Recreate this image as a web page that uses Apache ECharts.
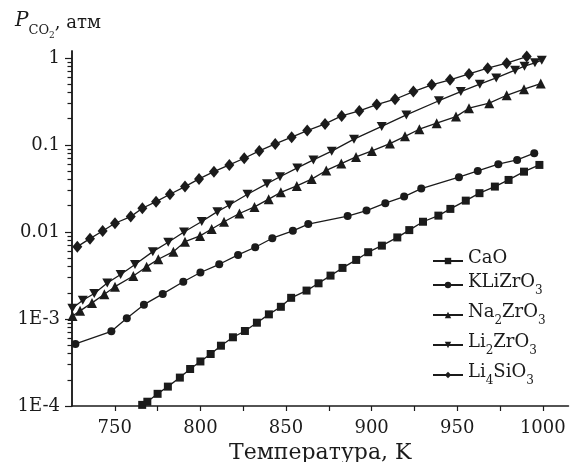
<!DOCTYPE html>
<html>
<head>
<meta charset="utf-8">
<script src="https://cdn.jsdelivr.net/npm/echarts@6/dist/echarts.min.js"></script>
<style>html,body{margin:0;padding:0;background:#fff;}#c{width:571px;height:462px;}</style>
</head>
<body>
<div id="c"></div>
<script>
// ---- data (temperature K, pressure atm) ----
const caoT = [766, 769, 775, 781, 788, 794, 800, 806, 812, 819, 826, 833, 840, 847, 853, 862, 869, 876, 883, 891, 898, 906, 915, 922, 930, 939, 946, 955, 963, 972, 980, 989, 998];
const caoP = [1.03e-4, 1.12e-4, 1.38e-4, 1.67e-4, 2.12e-4, 2.66e-4, 3.25e-4, 3.96e-4, 4.93e-4, 6.16e-4, 7.28e-4, 9.06e-4, 1.13e-3, 1.38e-3, 1.75e-3, 2.12e-3, 2.57e-3, 3.15e-3, 3.86e-3, 4.77e-3, 5.85e-3, 6.96e-3, 8.65e-3, 0.0105, 0.0131, 0.0154, 0.0184, 0.0229, 0.0279, 0.0332, 0.0396, 0.0493, 0.0589];

const kliT = [727, 748, 757, 767, 778, 790, 800, 811, 822, 832, 842, 854, 863, 886, 897, 908, 919, 929, 951, 962, 974, 985, 995];
const kliP = [5.16e-4, 7.22e-4, 1.02e-3, 1.46e-3, 1.94e-3, 2.68e-3, 3.42e-3, 4.25e-3, 5.44e-3, 6.67e-3, 8.47e-3, 0.0103, 0.0123, 0.0152, 0.0176, 0.0214, 0.0255, 0.0315, 0.0426, 0.0503, 0.0600, 0.0673, 0.0803];

const naT = [725.3, 729.7, 736.7, 743.9, 750.1, 760.8, 768.6, 775.4, 784.2, 791.0, 799.8, 806.6, 813.8, 822.8, 831.6, 839.9, 847.0, 856.3, 865.0, 873.5, 882.3, 890.9, 900.2, 910.7, 919.5, 927.9, 938.0, 949.3, 956.9, 968.7, 978.9, 989.0, 998.8];
const naP = [1.08e-3, 1.24e-3, 1.53e-3, 1.92e-3, 2.35e-3, 3.12e-3, 3.99e-3, 4.86e-3, 5.94e-3, 7.74e-3, 9.0e-3, 0.0108, 0.0131, 0.0163, 0.0194, 0.0238, 0.0285, 0.0338, 0.0405, 0.0509, 0.0610, 0.0728, 0.0853, 0.1035, 0.1256, 0.1515, 0.1775, 0.2115, 0.264, 0.302, 0.372, 0.437, 0.507];

const li2T = [725.2, 731.3, 738.0, 745.6, 753.4, 761.8, 772.2, 781.2, 790.4, 800.8, 809.9, 816.9, 827.5, 838.9, 846.5, 856.6, 866.0, 876.7, 889.7, 905.9, 920.3, 939.3, 952.1, 963.2, 972.8, 983.8, 989.3, 995.4, 999.4];
const li2P = [1.33e-3, 1.64e-3, 1.96e-3, 2.59e-3, 3.25e-3, 4.23e-3, 5.94e-3, 7.62e-3, 0.0100, 0.0132, 0.0171, 0.0204, 0.0271, 0.0359, 0.0431, 0.0544, 0.0673, 0.0847, 0.1164, 0.163, 0.221, 0.322, 0.410, 0.499, 0.589, 0.722, 0.803, 0.877, 0.941];

const li4T = [728.1, 735.5, 742.9, 750.1, 759.3, 766.1, 774.1, 782.2, 791.0, 799.2, 807.9, 816.9, 825.6, 834.4, 843.7, 853.3, 862.4, 872.8, 882.5, 892.8, 903.0, 913.7, 924.4, 935.1, 945.8, 956.9, 967.8, 978.9, 990.6];
const li4P = [6.78e-3, 8.38e-3, 0.01026, 0.01259, 0.0150, 0.0187, 0.0223, 0.0271, 0.0332, 0.0407, 0.0493, 0.0589, 0.0703, 0.0853, 0.1026, 0.1226, 0.1460, 0.1743, 0.2155, 0.2460, 0.2905, 0.335, 0.410, 0.490, 0.559, 0.655, 0.762, 0.869, 1.035];

const seriesNames = ['CaO', 'KLiZrO3', 'Na2ZrO3', 'Li2ZrO3', 'Li4SiO3'];
const xTicks = [750, 775, 800, 825, 850, 875, 900, 925, 950, 975, 1000];
const xLabels = [750, 800, 850, 900, 950, 1000];
const yLabels = [1e-4, 1e-3, 0.01, 0.1, 1];
const yLabelText = ['1E-4', '1E-3', '0.01', '0.1', '1'];
const yMinor = [2e-4,3e-4,4e-4,5e-4,6e-4,7e-4,8e-4,9e-4,2e-3,3e-3,4e-3,5e-3,6e-3,7e-3,8e-3,9e-3,0.02,0.03,0.04,0.05,0.06,0.07,0.08,0.09,0.2,0.3,0.4,0.5,0.6,0.7,0.8,0.9];

// ---- chart ----
const INK = '#1b1b1b';
const FONT = '"DejaVu Serif", "Liberation Serif", serif';
const Y_MIN = 1e-4, Y_MAX = 1.2;
const zip = (a, b) => a.map((v, i) => [v, b[i]]);
const downTri = 'path://M0,0 L10,0 L5,9 Z';

function mk(name, t, p, symbol, size) {
  return {
    name: name, type: 'line', data: zip(t, p),
    symbol: symbol, symbolSize: size, showAllSymbol: true,
    lineStyle: { color: INK, width: 1.3 },
    itemStyle: { color: INK },
    emphasis: { disabled: true },
    animation: false
  };
}

const legendRich = {
  n: { fontFamily: FONT, fontSize: 18, color: INK, verticalAlign: 'top', lineHeight: 24 },
  s: { fontFamily: FONT, fontSize: 12, color: INK, verticalAlign: 'bottom', lineHeight: 24 }
};
function legendFmt(name) {
  return name.replace(/([A-Za-z]+)(\d)?/g, (m, a, d) => '{n|' + a + '}' + (d ? '{s|' + d + '}' : ''));
}

const chart = echarts.init(document.getElementById('c'), null, { renderer: 'canvas' });
chart.setOption({
  animation: false,
  backgroundColor: '#fff',
  title: {
    text: '{p|P}{s|CO}{ss|2}{t|, атм}',
    left: 10, top: 6,
    textStyle: {
      fontWeight: 'normal',
      rich: {
        p: { fontFamily: FONT, fontStyle: 'italic', fontWeight: 'normal', fontSize: 20, color: INK, verticalAlign: 'top', lineHeight: 30 },
        s: { fontFamily: FONT, fontWeight: 'normal', fontSize: 13, color: INK, verticalAlign: 'bottom', lineHeight: 30, padding: [0, 0, 4, 0] },
        ss: { fontFamily: FONT, fontWeight: 'normal', fontSize: 9, color: INK, verticalAlign: 'bottom', lineHeight: 30, padding: [0, 0, 1, 0] },
        t: { fontFamily: FONT, fontWeight: 'normal', fontSize: 18, color: INK, verticalAlign: 'top', lineHeight: 30, padding: [3, 0, 0, 0] }
      }
    }
  },
  grid: { left: 72, right: 2.5, top: 51, bottom: 56, containLabel: false, outerBoundsMode: 'none' },
  legend: {
    orient: 'vertical', left: 432, top: 249, padding: 0,
    itemWidth: 30, itemHeight: 8, itemGap: 6,
    data: seriesNames,
    formatter: legendFmt,
    textStyle: { rich: legendRich },
    selectedMode: false
  },
  xAxis: {
    type: 'value', min: 725, max: 1015,
    name: 'Температура, K', nameLocation: 'middle', nameGap: 35,
    nameTextStyle: { fontFamily: FONT, fontSize: 22, color: INK },
    axisLine: { show: true, onZero: false, lineStyle: { color: INK, width: 1.5 } },
    axisTick: { show: true, inside: false, length: 5, customValues: xTicks, lineStyle: { color: INK, width: 1.2 } },
    axisLabel: { customValues: xLabels, fontFamily: FONT, fontSize: 18, color: INK, margin: 13, formatter: v => String(Math.round(v)) },
    splitLine: { show: false }
  },
  yAxis: [{
    type: 'log', min: Y_MIN, max: Y_MAX, logBase: 10,
    axisLine: { show: true, lineStyle: { color: INK, width: 1.5 } },
    axisTick: { show: true, inside: false, length: 7, customValues: yLabels, lineStyle: { color: INK, width: 1.2 } },
    axisLabel: {
      customValues: yLabels, fontFamily: FONT, fontSize: 18, color: INK, margin: 12,
      formatter: v => { const i = yLabels.findIndex(x => Math.abs(Math.log10(x) - Math.log10(v)) < 1e-6); return i >= 0 ? yLabelText[i] : ''; }
    },
    splitLine: { show: false }
  }, {
    // helper axis (decimal exponent) carrying only the minor log ticks
    type: 'value', min: Math.log10(Y_MIN), max: Math.log10(Y_MAX), position: 'left',
    axisLine: { show: true, lineStyle: { color: INK, width: 1.5 } },
    axisTick: { show: true, inside: false, length: 4.5, customValues: yMinor.map(v => Math.log10(v)), lineStyle: { color: INK, width: 1.2 } },
    axisLabel: { show: false },
    splitLine: { show: false }
  }],
  series: [
    mk('CaO', caoT, caoP, 'rect', 8),
    mk('KLiZrO3', kliT, kliP, 'circle', 8),
    mk('Na2ZrO3', naT, naP, 'triangle', 10),
    mk('Li2ZrO3', li2T, li2P, downTri, [10, 9]),
    mk('Li4SiO3', li4T, li4P, 'diamond', [10, 12])
  ]
});
</script>
</body>
</html>
